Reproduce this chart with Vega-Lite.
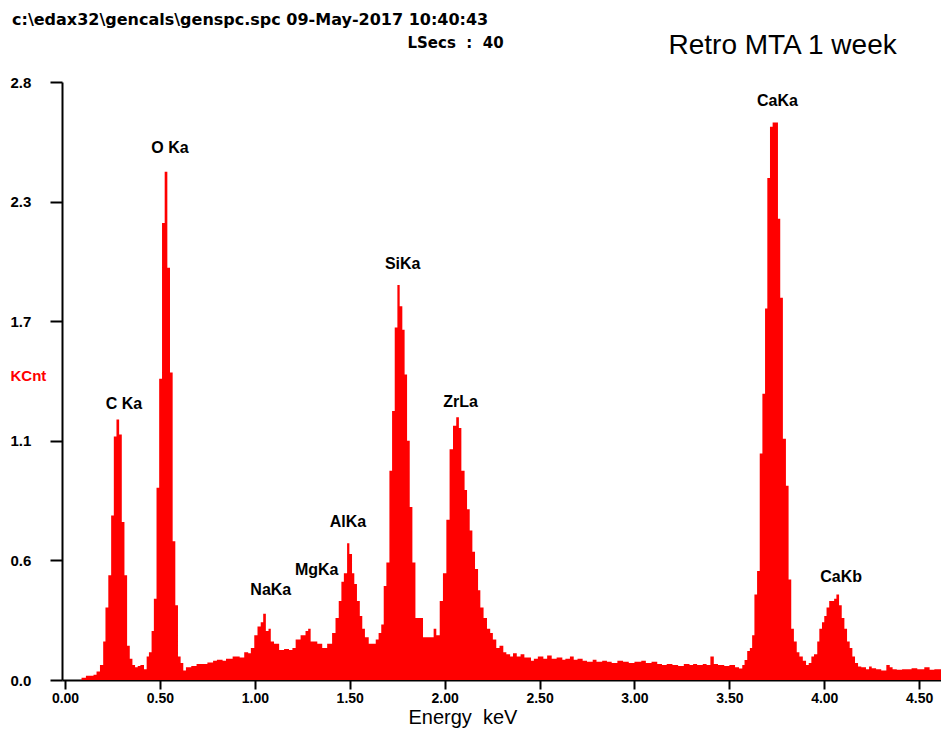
{
  "$schema": "https://vega.github.io/schema/vega-lite/v6.json",
  "width": 879,
  "height": 598,
  "autosize": {"type": "none"},
  "padding": {"left": 62, "top": 82, "right": 0, "bottom": 56},
  "background": "white",
  "title": {
    "text": "c:\\edax32\\gencals\\genspc.spc  09-May-2017 10:40:43",
    "anchor": "start",
    "frame": "bounds",
    "font": "DejaVu Sans",
    "fontSize": 16,
    "fontWeight": "bold",
    "color": "black",
    "offset": 3,
    "dx": 2
  },
  "config": {"view": {"stroke": null}, "axis": {"grid": false}},
  "datasets": {
    "spectrum": [
      {"energy": 0.0, "kcnt": 0}, {"energy": 0.087, "kcnt": 0.01}, {"energy": 0.11, "kcnt": 0.02}, {"energy": 0.15, "kcnt": 0.025},
      {"energy": 0.166, "kcnt": 0.04}, {"energy": 0.184, "kcnt": 0.07}, {"energy": 0.201, "kcnt": 0.18}, {"energy": 0.213, "kcnt": 0.34},
      {"energy": 0.228, "kcnt": 0.49}, {"energy": 0.243, "kcnt": 0.77}, {"energy": 0.257, "kcnt": 1.14}, {"energy": 0.271, "kcnt": 1.22},
      {"energy": 0.285, "kcnt": 1.15}, {"energy": 0.299, "kcnt": 0.74}, {"energy": 0.313, "kcnt": 0.49}, {"energy": 0.327, "kcnt": 0.16},
      {"energy": 0.341, "kcnt": 0.1}, {"energy": 0.355, "kcnt": 0.07}, {"energy": 0.369, "kcnt": 0.06}, {"energy": 0.383, "kcnt": 0.065},
      {"energy": 0.397, "kcnt": 0.07}, {"energy": 0.416, "kcnt": 0.05}, {"energy": 0.43, "kcnt": 0.11}, {"energy": 0.442, "kcnt": 0.13},
      {"energy": 0.456, "kcnt": 0.23}, {"energy": 0.468, "kcnt": 0.38}, {"energy": 0.482, "kcnt": 0.9}, {"energy": 0.496, "kcnt": 1.41},
      {"energy": 0.511, "kcnt": 2.14}, {"energy": 0.525, "kcnt": 2.38}, {"energy": 0.539, "kcnt": 1.93}, {"energy": 0.553, "kcnt": 1.44},
      {"energy": 0.567, "kcnt": 0.65}, {"energy": 0.581, "kcnt": 0.35}, {"energy": 0.595, "kcnt": 0.11}, {"energy": 0.609, "kcnt": 0.08},
      {"energy": 0.623, "kcnt": 0.045}, {"energy": 0.637, "kcnt": 0.06}, {"energy": 0.665, "kcnt": 0.065}, {"energy": 0.693, "kcnt": 0.075},
      {"energy": 0.72, "kcnt": 0.075}, {"energy": 0.75, "kcnt": 0.082}, {"energy": 0.78, "kcnt": 0.09}, {"energy": 0.8, "kcnt": 0.095},
      {"energy": 0.83, "kcnt": 0.09}, {"energy": 0.848, "kcnt": 0.1}, {"energy": 0.883, "kcnt": 0.11}, {"energy": 0.92, "kcnt": 0.105},
      {"energy": 0.944, "kcnt": 0.13}, {"energy": 0.965, "kcnt": 0.125}, {"energy": 0.979, "kcnt": 0.15}, {"energy": 0.997, "kcnt": 0.21},
      {"energy": 1.014, "kcnt": 0.25}, {"energy": 1.031, "kcnt": 0.27}, {"energy": 1.044, "kcnt": 0.31}, {"energy": 1.058, "kcnt": 0.23},
      {"energy": 1.072, "kcnt": 0.24}, {"energy": 1.084, "kcnt": 0.18}, {"energy": 1.101, "kcnt": 0.17}, {"energy": 1.128, "kcnt": 0.14},
      {"energy": 1.154, "kcnt": 0.145}, {"energy": 1.18, "kcnt": 0.14}, {"energy": 1.198, "kcnt": 0.15}, {"energy": 1.215, "kcnt": 0.19},
      {"energy": 1.241, "kcnt": 0.21}, {"energy": 1.267, "kcnt": 0.23}, {"energy": 1.281, "kcnt": 0.24}, {"energy": 1.294, "kcnt": 0.18},
      {"energy": 1.329, "kcnt": 0.17}, {"energy": 1.355, "kcnt": 0.15}, {"energy": 1.381, "kcnt": 0.17}, {"energy": 1.407, "kcnt": 0.22},
      {"energy": 1.425, "kcnt": 0.29}, {"energy": 1.442, "kcnt": 0.37}, {"energy": 1.456, "kcnt": 0.46}, {"energy": 1.469, "kcnt": 0.5},
      {"energy": 1.486, "kcnt": 0.64}, {"energy": 1.498, "kcnt": 0.59}, {"energy": 1.512, "kcnt": 0.5}, {"energy": 1.524, "kcnt": 0.45},
      {"energy": 1.538, "kcnt": 0.37}, {"energy": 1.553, "kcnt": 0.3}, {"energy": 1.566, "kcnt": 0.24}, {"energy": 1.58, "kcnt": 0.2},
      {"energy": 1.6, "kcnt": 0.17}, {"energy": 1.62, "kcnt": 0.17}, {"energy": 1.637, "kcnt": 0.19}, {"energy": 1.652, "kcnt": 0.22},
      {"energy": 1.666, "kcnt": 0.26}, {"energy": 1.679, "kcnt": 0.44}, {"energy": 1.693, "kcnt": 0.55}, {"energy": 1.709, "kcnt": 0.98},
      {"energy": 1.723, "kcnt": 1.26}, {"energy": 1.737, "kcnt": 1.65}, {"energy": 1.751, "kcnt": 1.85}, {"energy": 1.763, "kcnt": 1.75},
      {"energy": 1.777, "kcnt": 1.64}, {"energy": 1.789, "kcnt": 1.43}, {"energy": 1.802, "kcnt": 1.12}, {"energy": 1.816, "kcnt": 0.81},
      {"energy": 1.83, "kcnt": 0.55}, {"energy": 1.846, "kcnt": 0.29}, {"energy": 1.886, "kcnt": 0.2}, {"energy": 1.942, "kcnt": 0.24},
      {"energy": 1.956, "kcnt": 0.21}, {"energy": 1.974, "kcnt": 0.37}, {"energy": 1.991, "kcnt": 0.5}, {"energy": 2.009, "kcnt": 0.75},
      {"energy": 2.026, "kcnt": 1.08}, {"energy": 2.044, "kcnt": 1.19}, {"energy": 2.061, "kcnt": 1.23}, {"energy": 2.075, "kcnt": 1.18},
      {"energy": 2.088, "kcnt": 0.98}, {"energy": 2.105, "kcnt": 0.89}, {"energy": 2.118, "kcnt": 0.8}, {"energy": 2.132, "kcnt": 0.7},
      {"energy": 2.146, "kcnt": 0.6}, {"energy": 2.16, "kcnt": 0.52}, {"energy": 2.176, "kcnt": 0.42}, {"energy": 2.188, "kcnt": 0.34},
      {"energy": 2.205, "kcnt": 0.29}, {"energy": 2.223, "kcnt": 0.24}, {"energy": 2.24, "kcnt": 0.22}, {"energy": 2.254, "kcnt": 0.19},
      {"energy": 2.272, "kcnt": 0.15}, {"energy": 2.289, "kcnt": 0.16}, {"energy": 2.309, "kcnt": 0.13}, {"energy": 2.325, "kcnt": 0.12},
      {"energy": 2.345, "kcnt": 0.11}, {"energy": 2.36, "kcnt": 0.125}, {"energy": 2.38, "kcnt": 0.11}, {"energy": 2.4, "kcnt": 0.12},
      {"energy": 2.42, "kcnt": 0.105}, {"energy": 2.455, "kcnt": 0.09}, {"energy": 2.47, "kcnt": 0.1}, {"energy": 2.491, "kcnt": 0.11},
      {"energy": 2.52, "kcnt": 0.1}, {"energy": 2.54, "kcnt": 0.115}, {"energy": 2.564, "kcnt": 0.1}, {"energy": 2.59, "kcnt": 0.105},
      {"energy": 2.62, "kcnt": 0.095}, {"energy": 2.636, "kcnt": 0.1}, {"energy": 2.66, "kcnt": 0.11}, {"energy": 2.68, "kcnt": 0.095},
      {"energy": 2.7, "kcnt": 0.1}, {"energy": 2.727, "kcnt": 0.09}, {"energy": 2.75, "kcnt": 0.085}, {"energy": 2.78, "kcnt": 0.095},
      {"energy": 2.8, "kcnt": 0.085}, {"energy": 2.83, "kcnt": 0.09}, {"energy": 2.855, "kcnt": 0.085}, {"energy": 2.88, "kcnt": 0.08},
      {"energy": 2.91, "kcnt": 0.09}, {"energy": 2.94, "kcnt": 0.085}, {"energy": 2.97, "kcnt": 0.08}, {"energy": 3.0, "kcnt": 0.085},
      {"energy": 3.036, "kcnt": 0.09}, {"energy": 3.06, "kcnt": 0.08}, {"energy": 3.09, "kcnt": 0.085}, {"energy": 3.12, "kcnt": 0.075},
      {"energy": 3.145, "kcnt": 0.07}, {"energy": 3.17, "kcnt": 0.075}, {"energy": 3.2, "kcnt": 0.07}, {"energy": 3.23, "kcnt": 0.065},
      {"energy": 3.26, "kcnt": 0.075}, {"energy": 3.29, "kcnt": 0.07}, {"energy": 3.309, "kcnt": 0.075}, {"energy": 3.33, "kcnt": 0.07},
      {"energy": 3.36, "kcnt": 0.075}, {"energy": 3.38, "kcnt": 0.07}, {"energy": 3.4, "kcnt": 0.11}, {"energy": 3.418, "kcnt": 0.075},
      {"energy": 3.44, "kcnt": 0.07}, {"energy": 3.473, "kcnt": 0.065}, {"energy": 3.5, "kcnt": 0.07}, {"energy": 3.53, "kcnt": 0.06},
      {"energy": 3.551, "kcnt": 0.054}, {"energy": 3.568, "kcnt": 0.07}, {"energy": 3.58, "kcnt": 0.094}, {"energy": 3.594, "kcnt": 0.136},
      {"energy": 3.608, "kcnt": 0.15}, {"energy": 3.62, "kcnt": 0.21}, {"energy": 3.632, "kcnt": 0.4}, {"energy": 3.646, "kcnt": 0.51},
      {"energy": 3.66, "kcnt": 1.06}, {"energy": 3.674, "kcnt": 1.34}, {"energy": 3.688, "kcnt": 1.74}, {"energy": 3.7, "kcnt": 2.35},
      {"energy": 3.714, "kcnt": 2.59}, {"energy": 3.728, "kcnt": 2.61}, {"energy": 3.742, "kcnt": 2.61}, {"energy": 3.756, "kcnt": 2.16},
      {"energy": 3.768, "kcnt": 1.79}, {"energy": 3.782, "kcnt": 1.13}, {"energy": 3.798, "kcnt": 0.91}, {"energy": 3.812, "kcnt": 0.47},
      {"energy": 3.826, "kcnt": 0.24}, {"energy": 3.84, "kcnt": 0.18}, {"energy": 3.855, "kcnt": 0.13}, {"energy": 3.869, "kcnt": 0.11},
      {"energy": 3.887, "kcnt": 0.09}, {"energy": 3.904, "kcnt": 0.07}, {"energy": 3.918, "kcnt": 0.08}, {"energy": 3.932, "kcnt": 0.11},
      {"energy": 3.946, "kcnt": 0.12}, {"energy": 3.963, "kcnt": 0.18}, {"energy": 3.974, "kcnt": 0.24}, {"energy": 3.988, "kcnt": 0.27},
      {"energy": 4.0, "kcnt": 0.3}, {"energy": 4.012, "kcnt": 0.34}, {"energy": 4.026, "kcnt": 0.37}, {"energy": 4.052, "kcnt": 0.38},
      {"energy": 4.064, "kcnt": 0.4}, {"energy": 4.078, "kcnt": 0.35}, {"energy": 4.092, "kcnt": 0.29}, {"energy": 4.106, "kcnt": 0.24},
      {"energy": 4.12, "kcnt": 0.18}, {"energy": 4.134, "kcnt": 0.15}, {"energy": 4.148, "kcnt": 0.11}, {"energy": 4.162, "kcnt": 0.08},
      {"energy": 4.178, "kcnt": 0.063}, {"energy": 4.195, "kcnt": 0.06}, {"energy": 4.22, "kcnt": 0.05}, {"energy": 4.236, "kcnt": 0.063},
      {"energy": 4.25, "kcnt": 0.055}, {"energy": 4.273, "kcnt": 0.05}, {"energy": 4.3, "kcnt": 0.045}, {"energy": 4.327, "kcnt": 0.07},
      {"energy": 4.345, "kcnt": 0.06}, {"energy": 4.36, "kcnt": 0.05}, {"energy": 4.382, "kcnt": 0.048}, {"energy": 4.41, "kcnt": 0.05},
      {"energy": 4.436, "kcnt": 0.05}, {"energy": 4.46, "kcnt": 0.055}, {"energy": 4.49, "kcnt": 0.05}, {"energy": 4.527, "kcnt": 0.06},
      {"energy": 4.555, "kcnt": 0.048}, {"energy": 4.58, "kcnt": 0.05}, {"energy": 4.615, "kcnt": 0.05}
    ],
    "peaks": [
      {"label": "C Ka", "energy": 0.31, "kcnt": 1.29},
      {"label": "O Ka", "energy": 0.553, "kcnt": 2.49},
      {"label": "NaKa", "energy": 1.084, "kcnt": 0.42},
      {"label": "MgKa", "energy": 1.326, "kcnt": 0.515},
      {"label": "AlKa", "energy": 1.49, "kcnt": 0.74},
      {"label": "SiKa", "energy": 1.779, "kcnt": 1.95},
      {"label": "ZrLa", "energy": 2.084, "kcnt": 1.3},
      {"label": "CaKa", "energy": 3.753, "kcnt": 2.71},
      {"label": "CaKb", "energy": 4.089, "kcnt": 0.48}
    ]
  },
  "layer": [
    {
      "data": {"name": "spectrum"},
      "mark": {"type": "area", "interpolate": "step-after", "color": "#ff0000", "clip": true},
      "encoding": {
        "x": {
          "field": "energy", "type": "quantitative",
          "scale": {"domain": [-0.016, 4.615], "nice": false, "zero": false},
          "axis": {
            "values": [0, 0.5, 1, 1.5, 2, 2.5, 3, 3.5, 4, 4.5],
            "format": ".2f",
            "title": "Energy\u00a0\u00a0keV",
            "titleFont": "Liberation Sans", "titleFontSize": 20, "titleFontWeight": "normal", "titleColor": "black", "titlePadding": 2,
            "titleAnchor": "start", "titleAlign": "left", "titleX": 346,
            "labelFont": "Liberation Sans", "labelFontSize": 14, "labelFontWeight": "bold", "labelColor": "black",
            "labelPadding": 2, "labelFlush": false, "labelOverlap": false,
            "tickColor": "black", "tickSize": 9, "tickWidth": 2,
            "domainColor": "black", "domainWidth": 2
          }
        },
        "y": {
          "field": "kcnt", "type": "quantitative",
          "scale": {"domain": [0, 2.8], "nice": false},
          "axis": {
            "values": [0, 0.56, 1.12, 1.68, 2.24, 2.8],
            "labelExpr": "datum.value > 2.5 ? '2.8' : datum.value > 2 ? '2.3' : format(datum.value, '.1f')",
            "labelAlign": "left", "labelBaseline": "middle", "labelPadding": 40,
            "labelFont": "Liberation Sans", "labelFontSize": 15, "labelFontWeight": "bold", "labelColor": "black",
            "tickColor": "black", "tickSize": 12, "tickWidth": 2,
            "domainColor": "black", "domainWidth": 2,
            "title": "KCnt", "titleColor": "#ff0000", "titleFont": "Liberation Sans", "titleFontSize": 15, "titleFontWeight": "bold",
            "titleAngle": 0, "titleAlign": "left", "titleBaseline": "middle", "titleX": -52, "titleY": 293
          }
        }
      }
    },
    {
      "data": {"name": "peaks"},
      "mark": {"type": "text", "font": "Liberation Sans", "fontSize": 16, "fontWeight": "bold", "color": "black", "align": "center", "baseline": "middle"},
      "encoding": {
        "x": {
          "field": "energy", "type": "quantitative",
          "axis": {
            "orient": "top", "labels": false, "ticks": false, "domain": false,
            "title": "LSecs\u00a0\u00a0:\u00a0\u00a040", "titleFont": "DejaVu Sans", "titleFontSize": 15, "titleFontWeight": "bold", "titleColor": "black",
            "titleAlign": "left", "titleBaseline": "middle", "titleX": 345, "titleY": -40
          }
        },
        "y": {
          "field": "kcnt", "type": "quantitative",
          "axis": {
            "orient": "right", "labels": false, "ticks": false, "domain": false,
            "title": "Retro MTA 1 week", "titleFont": "Liberation Sans", "titleFontSize": 28, "titleFontWeight": "normal", "titleColor": "black",
            "titleAngle": 0, "titleAlign": "left", "titleBaseline": "middle", "titleX": -273, "titleY": -37
          }
        },
        "text": {"field": "label", "type": "nominal"}
      }
    }
  ],
  "resolve": {"axis": {"x": "independent", "y": "independent"}}
}
